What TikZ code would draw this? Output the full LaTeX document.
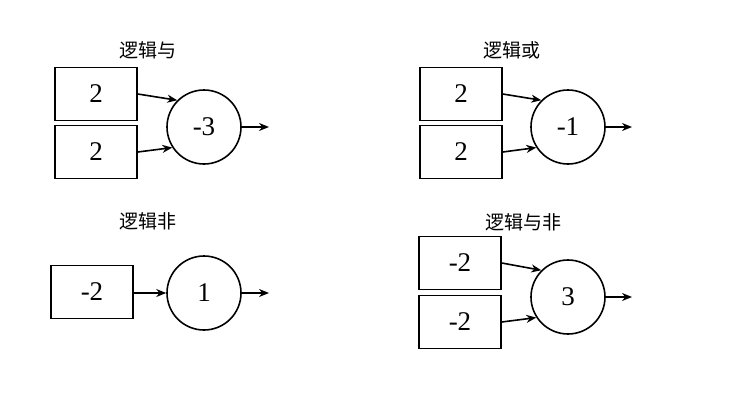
\documentclass[tikz,border=0pt]{standalone}
\usepackage{fontspec}
\setmainfont{Liberation Serif}
\newfontfamily\cjk{Noto Sans CJK SC}
\usetikzlibrary{arrows.meta}
\begin{document}
\begin{tikzpicture}[x=1pt,y=-1pt,
  inbox/.style={draw,line width=1.6pt,minimum width=82pt,minimum height=53pt,inner sep=0pt,font=\fontsize{27}{27}\selectfont},
  neuron/.style={draw,circle,line width=1.6pt,minimum size=74pt,inner sep=0pt,font=\fontsize{27}{27}\selectfont},
  title/.style={font=\cjk\fontsize{19}{19}\selectfont},
  conn/.style={line width=1.6pt,-{Stealth[length=10pt,width=8pt]}}]
\useasboundingbox (0,0) rectangle (748,407);
% top-left: AND
\node[title] (t1) at (148,50) {逻辑与};
\node[inbox] (a1) at (96,94) {2};
\node[inbox] (a2) at (96,152) {2};
\node[neuron] (n1) at (204,127) {-3};
\coordinate (o1) at (269,127);
\draw[conn] (a1.east |- 0,94) -- (n1.135);
\draw[conn] (a2.east |- 0,152) -- (n1.213);
\draw[conn] (n1.east) -- (o1);
% top-right: OR
\node[title] (t2) at (512,50) {逻辑或};
\node[inbox] (b1) at (461,94) {2};
\node[inbox] (b2) at (461,152) {2};
\node[neuron] (n2) at (568,127) {-1};
\coordinate (o2) at (632,127);
\draw[conn] (b1.east |- 0,94) -- (n2.135);
\draw[conn] (b2.east |- 0,152) -- (n2.213);
\draw[conn] (n2.east) -- (o2);
% bottom-left: NOT
\node[title] (t3) at (148,221) {逻辑非};
\node[inbox] (c1) at (92,292) {-2};
\node[neuron] (n3) at (204,293) {1};
\coordinate (o3) at (269,293);
\draw[conn] (c1.east |- 0,293) -- (n3.west);
\draw[conn] (n3.east) -- (o3);
% bottom-right: NAND
\node[title] (t4) at (523,222) {逻辑与非};
\node[inbox] (d1) at (460,263) {-2};
\node[inbox] (d2) at (460,322) {-2};
\node[neuron] (n4) at (568,297) {3};
\coordinate (o4) at (632,297);
\draw[conn] (d1.east |- 0,263) -- (n4.135);
\draw[conn] (d2.east |- 0,322) -- (n4.213);
\draw[conn] (n4.east) -- (o4);
\end{tikzpicture}
\end{document}
